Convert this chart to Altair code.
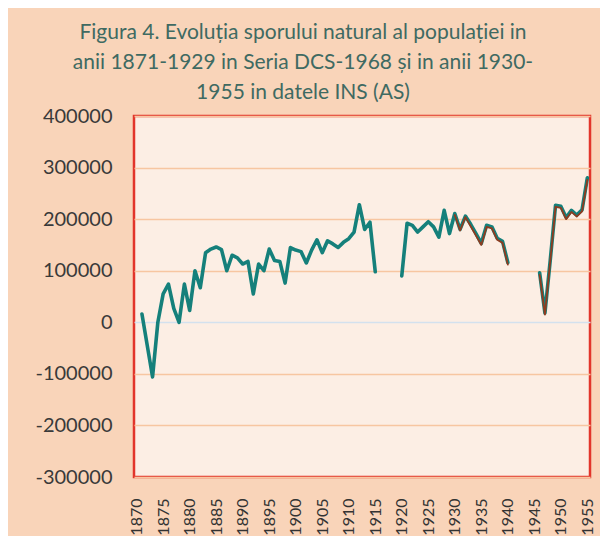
import altair as alt
import pandas as pd

# DCS-1968 series (teal), gaps 1916-1919 and 1941-1945
dcs_years = list(range(1871, 1916)) + list(range(1920, 1941)) + list(range(1946, 1956))
dcs_values = [
    16000, -45000, -106000, 0, 55000, 74000, 27000, 0, 74000, 23000,
    100000, 67000, 135000, 142000, 146000, 141000, 100000, 130000, 125000, 113000,
    118000, 55000, 113000, 100000, 142000, 120000, 118000, 76000, 145000, 140000,
    137000, 115000, 140000, 160000, 135000, 158000, 152000, 145000, 155000, 162000,
    175000, 228000, 180000, 194000, 98000,
    90000, 192000, 188000, 175000, 185000, 195000, 185000, 165000, 217000, 172000,
    211000, 180000, 206000, 190000, 172000, 153000, 188000, 185000, 163000, 157000,
    116000,
    96000, 18000, 120000, 227000, 225000, 203000, 217000, 208000, 218000, 280000,
]

# INS series (brown), 1930-1940 and 1946-1955
ins_years = list(range(1930, 1941)) + list(range(1946, 1956))
ins_values = [
    208000, 178000, 204000, 186000, 168000, 150000, 185000, 182000, 160000, 154000,
    112000,
    92000, 15000, 118000, 224000, 222000, 200000, 214000, 205000, 215000, 276000,
]

x_ticks = list(range(1870, 1956, 5))
y_ticks = [-300000, -200000, -100000, 0, 100000, 200000, 300000, 400000]

title_lines = [
    "Figura  4. Evoluția sporului natural  al populației  in",
    "anii 1871-1929 in Seria DCS-1968 și in anii 1930-",
    "1955 in datele INS (AS)",
]


def segments(years):
    seg, out, prev = 0, [], None
    for y in years:
        if prev is not None and y - prev > 1:
            seg += 1
        out.append(seg)
        prev = y
    return out


dcs = pd.DataFrame({"year": dcs_years, "value": dcs_values,
                    "seg": [f"d{s}" for s in segments(dcs_years)], "series": "DCS"})
ins = pd.DataFrame({"year": ins_years, "value": ins_values,
                    "seg": [f"i{s}" for s in segments(ins_years)], "series": "INS"})
data = pd.concat([dcs, ins], ignore_index=True)

base = alt.Chart(data).encode(
    x=alt.X(
        "year:Q",
        scale=alt.Scale(domain=[1869.5, 1955.5], nice=False, zero=False),
        axis=alt.Axis(
            values=x_ticks, labelExpr="'' + datum.value", labelAngle=270, labelPadding=21,
            labelOverlap=False, labelBound=False, labelFlush=False, labelSeparation=0,
            labelFont="Lato", labelFontSize=16, labelColor="#333333",
            grid=False, ticks=False, domain=False, title=None,
        ),
    ),
    y=alt.Y(
        "value:Q",
        scale=alt.Scale(domain=[-300000, 400000], nice=False),
        axis=alt.Axis(
            values=y_ticks, labelExpr="'' + datum.value", labelPadding=22,
            labelOverlap=False, labelFlush=False,
            labelFont="Lato", labelFontSize=20, labelColor="#3a3a3a",
            grid=True,
            gridColor={"condition": {"test": "datum.value === 0", "value": "#D3E1EE"}, "value": "#F7C6A1"},
            gridWidth=1.5, ticks=False, domain=False, title=None,
        ),
    ),
    detail="seg:N",
)

teal = base.transform_filter("datum.series === 'DCS'").mark_line(
    color="#15807B", strokeWidth=3.6, strokeJoin="round", strokeCap="round"
)
brown = base.transform_filter("datum.series === 'INS'").mark_line(
    color="#8E3B1F", strokeWidth=1.8, strokeJoin="round", strokeCap="round"
)

chart = (
    alt.layer(teal, brown)
    .properties(
        width=456,
        height=361,
        autosize=alt.AutoSizeParams(type="none"),
        padding={"left": 126, "top": 108, "right": 10, "bottom": 59},
        title=alt.TitleParams(
            text=title_lines, font="Lato", fontSize=21, fontWeight="normal",
            color="#3F6A62", lineHeight=30, anchor="middle", frame="group",
            dx=-59, offset=3,
        ),
        background="#F9D4B9",
    )
    .configure_axis(labelOverlap=False)
    .configure_view(fill="#FCEEE4", stroke="#E2352B", strokeWidth=2.5)
)

chart.save("out.html", embed_options={"renderer": "svg", "actions": False})
